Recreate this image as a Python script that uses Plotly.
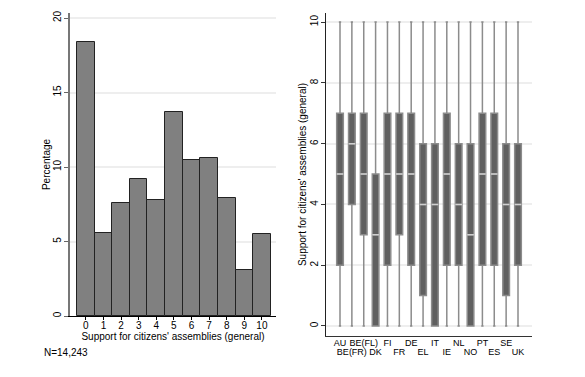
import plotly.graph_objects as go

# Histogram data
scores = list(range(11))
percent = [18.4, 5.6, 7.6, 9.2, 7.8, 13.7, 10.5, 10.6, 7.9, 3.1, 5.5]

# Box plot data by country
countries = ["AU", "BE(FR)", "BE(FL)", "DK", "FI", "FR", "DE", "EL",
             "IT", "IE", "NL", "NO", "PT", "ES", "SE", "UK"]
q1 = [2, 4, 3, 0, 2, 3, 2, 1, 0, 2, 2, 0, 2, 2, 1, 2]
med = [5, 6, 5, 3, 5, 5, 5, 4, 4, 5, 4, 3, 5, 5, 4, 4]
q3 = [7, 7, 7, 5, 7, 7, 7, 6, 6, 7, 6, 6, 7, 7, 6, 6]
lo = [0] * 16
hi = [10] * 16

W, H = 585, 377
OFF = 8  # page body margin offset
FONT = "Liberation Sans, Arial, sans-serif"

pos = list(range(1, len(countries) + 1))

top_pos = pos[0::2]
top_txt = countries[0::2]
bot_pos = pos[1::2]
bot_txt = countries[1::2]

fig = go.Figure()

fig.add_trace(go.Bar(
    x=scores, y=percent, width=1.0,
    marker=dict(color="#808080", line=dict(color="#222222", width=1)),
    xaxis="x", yaxis="y", showlegend=False,
))

fig.add_trace(go.Box(
    x=pos, q1=q1, median=med, q3=q3, lowerfence=lo, upperfence=hi,
    fillcolor="#606060", line=dict(color="#8c8c8c", width=1.5),
    whiskerwidth=0.35, width=0.56,
    xaxis="x2", yaxis="y2", showlegend=False, boxpoints=False,
))
# median markers as zero-height boxes in light colour
fig.add_trace(go.Box(
    x=pos, q1=med, median=med, q3=med, lowerfence=med, upperfence=med,
    fillcolor="rgba(0,0,0,0)", line=dict(color="#d0d0d0", width=1.5),
    whiskerwidth=0, width=0.56,
    xaxis="x2", yaxis="y2", showlegend=False, boxpoints=False,
))
# invisible carrier trace so the second (staggered) label axis is drawn
fig.add_trace(go.Scatter(
    x=bot_pos, y=med[1::2], mode="markers", marker=dict(opacity=0),
    hoverinfo="skip", xaxis="x3", yaxis="y2", showlegend=False,
))

def px_x(p):
    return (p - OFF) / W

def px_y(p):
    return 1 - (p - OFF) / H

XR2 = [-0.18, 17.18]

fig.update_layout(
    width=W, height=H,
    margin=dict(l=0, r=0, t=0, b=0),
    paper_bgcolor="white", plot_bgcolor="white",
    font=dict(family=FONT, size=10, color="#000000"),
    bargap=0,
    xaxis=dict(
        domain=[px_x(70), px_x(276)], range=[-0.9, 10.8], automargin=False,
        tickmode="array", tickvals=scores, ticktext=[str(s) for s in scores],
        ticks="outside", ticklen=3, tickcolor="#000000", ticklabelstandoff=-3,
        showline=True, linecolor="#000000", linewidth=1,
        showgrid=False, zeroline=False,
        title=dict(text="Support for citizens' assemblies (general)", standoff=2,
                   font=dict(size=10)),
        anchor="y", tickfont=dict(size=10),
    ),
    yaxis=dict(
        domain=[px_y(316), px_y(13)], range=[0, 20.34], automargin=False,
        tickvals=[0, 5, 10, 15, 20], tickangle=-90,
        ticks="outside", ticklen=4, tickcolor="#666666", ticklabelstandoff=-1,
        showline=True, linecolor="#777777", linewidth=1.5,
        showgrid=True, gridcolor="#eeeeee", gridwidth=1.5, zeroline=False,
        title=dict(text="Percentage", standoff=0, font=dict(size=10)),
        anchor="x", tickfont=dict(size=10),
    ),
    xaxis2=dict(
        domain=[px_x(326), px_x(532)], range=XR2, automargin=False,
        tickmode="array", tickvals=top_pos, ticktext=top_txt,
        ticks="", ticklabelstandoff=-2,
        showline=True, linecolor="#333333", linewidth=1,
        showgrid=False, zeroline=False,
        anchor="y2", tickfont=dict(size=9), tickangle=0,
    ),
    xaxis3=dict(
        domain=[px_x(326), px_x(532)], range=XR2, automargin=False,
        overlaying="x2", anchor="y2", side="bottom",
        tickmode="array", tickvals=bot_pos, ticktext=bot_txt,
        ticks="", ticklabelstandoff=9,
        showline=False, showgrid=False, zeroline=False,
        tickfont=dict(size=9), tickangle=0,
    ),
    yaxis2=dict(
        domain=[px_y(336), px_y(13)], range=[-0.33, 10.3], automargin=False,
        tickvals=[0, 2, 4, 6, 8, 10], tickangle=-90,
        ticks="outside", ticklen=4, tickcolor="#333333", ticklabelstandoff=-1,
        showline=True, linecolor="#222222", linewidth=1,
        showgrid=True, gridcolor="#eeeeee", gridwidth=1.5, zeroline=False,
        title=dict(text="Support for citizens' assemblies (general)", standoff=0,
                   font=dict(size=10)),
        anchor="x2", tickfont=dict(size=10),
    ),
    annotations=[dict(
        text="N=14,243", xref="paper", yref="paper",
        x=px_x(42), y=px_y(352), xanchor="left", yanchor="middle",
        showarrow=False, font=dict(size=10),
    )],
)

fig.write_html("out.html")
